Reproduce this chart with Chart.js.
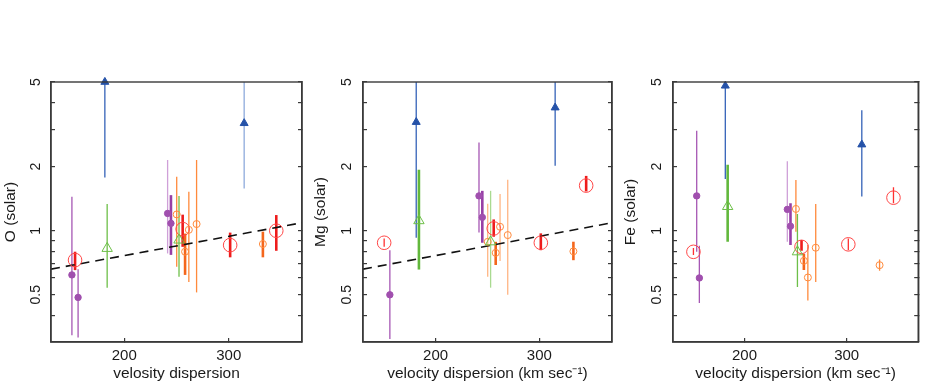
<!DOCTYPE html>
<html>
<head>
<meta charset="utf-8">
<script src="https://cdn.jsdelivr.net/npm/chart.js@4.4.1/dist/chart.umd.min.js"></script>
<style>
  html, body { margin: 0; padding: 0; background: #fff; overflow: hidden; }
  #wrap { position: relative; width: 926px; height: 386px; }
  .panel { position: absolute; top: 0; }
</style>
</head>
<body>
<div id="wrap">
  <canvas class="panel" id="chartO" width="310" height="386" style="left:0"></canvas>
  <canvas class="panel" id="chartMg" width="310" height="386" style="left:310px"></canvas>
  <canvas class="panel" id="chartFe" width="306" height="386" style="left:620px"></canvas>
</div>
<script>
// rows: [velocity dispersion, abundance, lower end, upper end]
const O_purple = [[150, 0.62, 0.323, 1.445], [155.9, 0.486, 0.315, 0.66], [241.5, 1.206, 0.782, 2.15], [244.7, 1.083, 0.77, 1.47]];
const O_green = [[183.7, 0.826, 0.539, 1.335], [252.4, 0.904, 0.608, 1.456]];
const O_blue = [[181.5, 5.0, 1.78, 6], [314.7, 3.2, 1.58, 6]];
const O_orange = [[250.2, 1.193, 0.677, 1.795], [258.2, 0.797, 0.62, 0.97], [261.8, 1.01, 0.575, 1.525], [269.2, 1.075, 0.513, 2.15], [332.6, 0.866, 0.75, 0.99]];
const O_red = [[153, 0.728, 0.653, 0.797], [255.9, 1.018, 0.84, 1.19], [301.3, 0.856, 0.75, 0.98], [345.4, 1.0, 0.805, 1.185]];

const Mg_purple = [[155.9, 0.5, 0.31, 0.81], [241.8, 1.458, 0.98, 2.6], [245, 1.156, 0.878, 1.54]];
const Mg_green = [[183.9, 1.115, 0.657, 1.935], [253, 0.887, 0.54, 1.54]];
const Mg_blue = [[181.3, 3.24, 0.927, 6], [315.2, 3.79, 2.02, 6]];
const Mg_orange = [[250.2, 0.887, 0.607, 1.34], [257.9, 0.787, 0.69, 0.887], [262.1, 1.044, 0.72, 1.49], [269.5, 0.954, 0.5, 1.735], [332.8, 0.8, 0.727, 0.888]];
const Mg_red = [[150.4, 0.878, 0.84, 0.92], [256, 1.025, 0.937, 1.13], [301.4, 0.878, 0.81, 0.972], [345.1, 1.63, 1.53, 1.81]];

const Fe_purple = [[153.2, 1.458, 0.797, 2.95], [155.8, 0.6, 0.457, 0.85], [241.9, 1.26, 0.887, 2.12], [245, 1.05, 0.856, 1.345]];
const Fe_green = [[183.5, 1.3, 0.887, 2.04], [251.8, 0.796, 0.544, 1.2]];
const Fe_blue = [[181.2, 4.8, 1.75, 6], [314.8, 2.54, 1.447, 3.68]];
const Fe_orange = [[250.3, 1.266, 0.99, 1.73], [258.1, 0.722, 0.653, 0.78], [262, 0.603, 0.47, 0.86], [269.7, 0.832, 0.575, 1.336], [332.2, 0.689, 0.648, 0.733]];
const Fe_red = [[150, 0.796, 0.77, 0.83], [255.8, 0.84, 0.805, 0.904], [301.6, 0.863, 0.81, 0.92], [345.8, 1.43, 1.345, 1.6]];

// dashed trend line (O and Mg panels)
const trendX = [130, 370];
const trendY = [0.66, 1.09];

const xTicks = [200, 300];
const yTicks = [0.4, 0.5, 0.6, 0.7, 0.8, 0.9, 1, 2, 3, 4, 5];
const yLabelled = [0.5, 1, 2, 5];

// error bar look per point: t = thin, T = thick, l = thin light
const O_bars = { purple: 'ttlT', green: 'tt', blue: 'tl', orange: 'tTttT', red: 'TTTT' };
const Mg_bars = { purple: 'ttT', green: 'Tl', blue: 'tt', orange: 'lTllT', red: 'tTTT' };
const Fe_bars = { purple: 'ttlT', green: 'Tt', blue: 'tt', orange: 'tTttt', red: 'tTtt' };

const FONT = "'Liberation Sans', Arial, Helvetica, sans-serif";
const INK = '#1a1a1a';
const AXIS = '#3a3a3a';

const styles = {
  purple: { shape: 'circle', r: 3.2, fill: '#a04fae', line: '#a04fae', bar: '#a657b4', dark: '#973fa6', light: '#cfa0d8' },
  green: { shape: 'triangle', r: 6, fill: 'rgba(0,0,0,0)', line: '#6dbf48', bar: '#6dbf48', dark: '#62b83c', light: '#a9da90' },
  blue: { shape: 'triangle', r: 4.6, fill: '#2552a8', line: '#2552a8', bar: '#3462b8', dark: '#2552a8', light: '#8eaadc' },
  orange: { shape: 'circle', r: 3.5, fill: 'rgba(0,0,0,0)', line: '#ff8a3c', bar: '#ff8a3c', dark: '#f4661c', light: '#ffb584' },
  red: { shape: 'circle', r: 6.8, fill: 'rgba(0,0,0,0)', line: '#ff4646', bar: '#ff3030', dark: '#ee1c1c', light: '#ff8080' }
};

const frame = {
  id: 'frame',
  afterDatasetsDraw(chart) {
    const { ctx, chartArea: a } = chart;
    ctx.save();
    ctx.strokeStyle = AXIS;
    ctx.lineWidth = 1.4;
    ctx.strokeRect(a.left, a.top, a.right - a.left, a.bottom - a.top);
    ctx.restore();
  }
};

function buildDatasets(groups, bars, withTrend) {
  const sets = [];
  Object.keys(groups).forEach(name => {
    const st = styles[name];
    const rows = groups[name];
    rows.forEach((r, i) => {
      const kind = bars[name][i];
      sets.push({
        data: [{ x: r[0], y: r[2] }, { x: r[0], y: r[3] }],
        showLine: true,
        pointRadius: 0,
        borderColor: kind === 'l' ? st.light : (kind === 'T' ? st.dark : st.bar),
        borderWidth: kind === 'T' ? 2.6 : 1.3,
        borderCapStyle: 'butt',
        clip: 0,
        order: 2
      });
    });
    sets.push({
      data: rows.map(r => ({ x: r[0], y: r[1] })),
      showLine: false,
      pointStyle: st.shape,
      pointRadius: st.r,
      pointBackgroundColor: st.fill,
      pointBorderColor: st.line,
      pointBorderWidth: 1,
      clip: false,
      order: 0
    });
  });
  if (withTrend) {
    sets.push({
      data: trendX.map((x, i) => ({ x, y: trendY[i] })),
      showLine: true,
      pointRadius: 0,
      borderColor: '#111',
      borderWidth: 1.6,
      borderDash: [9, 6],
      order: 1
    });
  }
  return sets;
}

function makePanel(id, groups, bars, withTrend, yTitle, xTitle, yWidth, yPad, rightPad) {
  const grid = { drawOnChartArea: false, tickLength: -4, color: AXIS, lineWidth: 1.2 };
  const border = { color: AXIS, width: 1.4 };
  new Chart(document.getElementById(id), {
    type: 'scatter',
    data: { datasets: buildDatasets(groups, bars, withTrend) },
    options: {
      responsive: false,
      animation: false,
      events: [],
      layout: { padding: { top: 82, right: rightPad, left: 0, bottom: 0 } },
      plugins: { legend: { display: false }, tooltip: { enabled: false } },
      scales: {
        x: {
          type: 'linear', position: 'bottom', min: 130, max: 370,
          afterBuildTicks: s => { s.ticks = xTicks.map(v => ({ value: v })); },
          afterFit: s => { s.height = 44; },
          ticks: { font: { family: FONT, size: 15 }, color: INK, padding: 9, maxRotation: 0, autoSkip: false },
          grid, border,
          title: { display: true, text: xTitle, color: INK, font: { family: FONT, size: 15.5 }, padding: { top: 0, bottom: 3 } }
        },
        y: {
          type: 'logarithmic', position: 'left', min: 0.3, max: 5,
          afterBuildTicks: s => { s.ticks = yTicks.map(v => ({ value: v })); },
          afterFit: s => { s.width = yWidth; },
          ticks: {
            font: { family: FONT, size: 14 }, color: INK, padding: yPad,
            minRotation: 90, maxRotation: 90, crossAlign: 'center', autoSkip: false,
            callback: v => yLabelled.includes(v) ? String(v) : ''
          },
          grid, border,
          title: { display: true, text: yTitle, color: INK, font: { family: FONT, size: 15.5 }, padding: { top: 1, bottom: 0 } }
        },
        y2: {
          type: 'logarithmic', position: 'right', min: 0.3, max: 5,
          afterBuildTicks: s => { s.ticks = yTicks.map(v => ({ value: v })); },
          afterFit: s => { s.width = 0; },
          ticks: { display: false },
          grid, border
        }
      }
    },
    plugins: [frame]
  });
}

makePanel('chartO', { purple: O_purple, green: O_green, blue: O_blue, orange: O_orange, red: O_red },
  O_bars, true, 'O (solar)', 'velosity dispersion', 51, 9, 8);
makePanel('chartMg', { purple: Mg_purple, green: Mg_green, blue: Mg_blue, orange: Mg_orange, red: Mg_red },
  Mg_bars, true, 'Mg (solar)', 'velocity dispersion (km sec\u207B\u00B9)', 53, 10.5, 8);
makePanel('chartFe', { purple: Fe_purple, green: Fe_green, blue: Fe_blue, orange: Fe_orange, red: Fe_red },
  Fe_bars, false, 'Fe (solar)', 'velocity dispersion (km sec\u207B\u00B9)', 53, 10.5, 4);
</script>
</body>
</html>
